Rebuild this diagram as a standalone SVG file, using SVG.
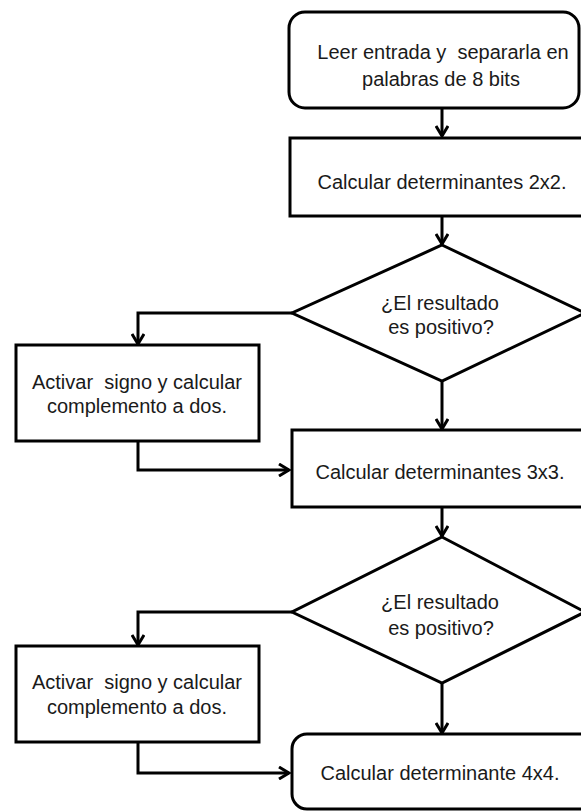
<svg xmlns="http://www.w3.org/2000/svg" width="581" height="811" viewBox="0 0 581 811">
  <defs>
    <style>
      .shape { fill: #ffffff; stroke: #000000; stroke-width: 3; }
      .conn { fill: none; stroke: #000000; stroke-width: 3; }
      .lbl { font-family: "Liberation Sans", Arial, sans-serif; font-size: 20px; fill: #1a1a1a; text-anchor: middle; white-space: pre; }
    </style>
    <marker id="arrow" markerUnits="userSpaceOnUse" viewBox="0 0 14 14" refX="12" refY="7" markerWidth="14" markerHeight="14" orient="auto">
      <path d="M2,1 L12,7 L2,13" fill="none" stroke="#000000" stroke-width="3" stroke-linejoin="miter"/>
    </marker>
  </defs>
  <rect x="0" y="0" width="581" height="811" fill="#ffffff"/>

  <g id="connectors">
    <line class="conn" x1="442" y1="108" x2="442" y2="136" marker-end="url(#arrow)"/>
    <line class="conn" x1="442" y1="216" x2="442" y2="244" marker-end="url(#arrow)"/>
    <polyline class="conn" points="292,313 138,313 138,344" marker-end="url(#arrow)"/>
    <line class="conn" x1="442" y1="381" x2="442" y2="429" marker-end="url(#arrow)"/>
    <polyline class="conn" points="138,441 138,470 289,470" marker-end="url(#arrow)"/>
    <line class="conn" x1="442" y1="507" x2="442" y2="536" marker-end="url(#arrow)"/>
    <polyline class="conn" points="292,612 138,612 138,645" marker-end="url(#arrow)"/>
    <line class="conn" x1="442" y1="683" x2="442" y2="733" marker-end="url(#arrow)"/>
    <polyline class="conn" points="138,742 138,773 289,773" marker-end="url(#arrow)"/>
  </g>

  <g id="start">
    <rect class="shape" x="289" y="12" width="290" height="96" rx="16" ry="16"/>
    <text class="lbl" x="443" y="59">Leer entrada y  separarla en</text>
    <text class="lbl" x="441" y="86">palabras de 8 bits</text>
  </g>

  <g id="det2x2">
    <rect class="shape" x="290" y="138" width="310" height="78"/>
    <text class="lbl" x="442" y="189">Calcular determinantes 2x2.</text>
  </g>

  <g id="decision1">
    <polygon class="shape" points="442,245 585,313 442,381 292,313"/>
    <text class="lbl" x="440" y="310">¿El resultado</text>
    <text class="lbl" x="441" y="334">es positivo?</text>
  </g>

  <g id="complement1">
    <rect class="shape" x="16" y="345" width="243" height="96"/>
    <text class="lbl" x="137" y="389">Activar  signo y calcular</text>
    <text class="lbl" x="137" y="413">complemento a dos.</text>
  </g>

  <g id="det3x3">
    <rect class="shape" x="292" y="430" width="310" height="77"/>
    <text class="lbl" x="440" y="479">Calcular determinantes 3x3.</text>
  </g>

  <g id="decision2">
    <polygon class="shape" points="442,537 585,612 442,683 292,612"/>
    <text class="lbl" x="440" y="609">¿El resultado</text>
    <text class="lbl" x="441" y="635">es positivo?</text>
  </g>

  <g id="complement2">
    <rect class="shape" x="16" y="646" width="243" height="96"/>
    <text class="lbl" x="137" y="689">Activar  signo y calcular</text>
    <text class="lbl" x="137" y="714">complemento a dos.</text>
  </g>

  <g id="det4x4">
    <rect class="shape" x="292" y="734" width="310" height="75" rx="15" ry="15"/>
    <text class="lbl" x="440" y="780">Calcular determinante 4x4.</text>
  </g>
</svg>
